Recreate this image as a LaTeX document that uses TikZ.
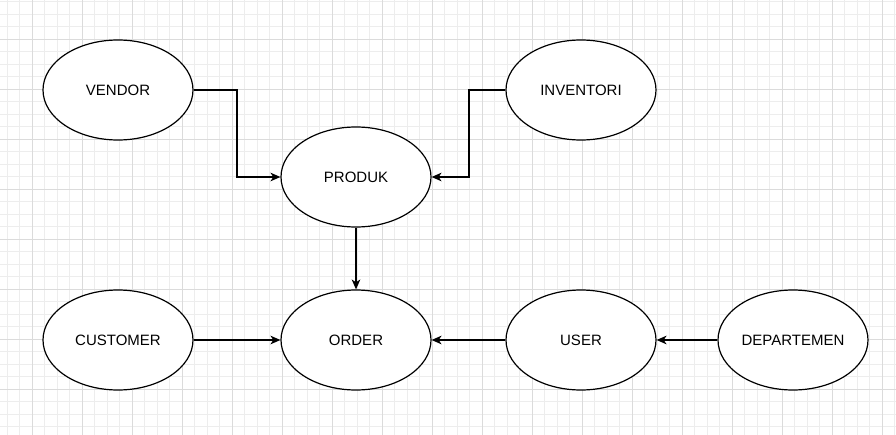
\documentclass[tikz,border=0pt]{standalone}
\usepackage{fontspec}
\setmainfont{Liberation Sans}
\usepackage{tikz}
\usetikzlibrary{arrows.meta,shapes.geometric}

\begin{document}
\begin{tikzpicture}[x=0.75pt,y=-0.75pt,->,>={Stealth[length=7.5pt,width=6.5pt,inset=2.2pt]},
  line width=0.9pt,
  entity/.style={ellipse,draw,fill=white,minimum width=112.5pt,
  minimum height=75pt,inner sep=0pt,font=\fontsize{11.25}{13}\selectfont}]

  % background grid
  \useasboundingbox (0,0) rectangle (896,435);
  \fill[white] (0,0) rectangle (896,435);
  \foreach \i in {0,...,71}
    \draw[-,line width=0.4pt,black!7] (7+12.5*\i,0) -- (7+12.5*\i,435);
  \foreach \i in {0,...,34}
    \draw[-,line width=0.4pt,black!7] (0,1.5+12.5*\i) -- (896,1.5+12.5*\i);
  \foreach \i in {0,...,17}
    \draw[-,line width=0.4pt,black!14] (32+50*\i,0) -- (32+50*\i,435);
  \foreach \i in {0,...,8}
    \draw[-,line width=0.4pt,black!14] (0,39+50*\i) -- (896,39+50*\i);

  \node[entity] (V) at (118,90) {VENDOR};
  \node[entity] (I) at (581,90) {INVENTORI};
  \node[entity] (P) at (356,177) {PRODUK};
  \node[entity] (C) at (118,340) {CUSTOMER};
  \node[entity] (O) at (356,340) {ORDER};
  \node[entity] (U) at (581,340) {USER};
  \node[entity] (D) at (793,340) {DEPARTEMEN};

  \coordinate (vbend) at (237,90);
  \coordinate (ibend) at (469,90);

  \draw (V) -- (vbend) |- (P);
  \draw (I) -- (ibend) |- (P);
  \draw (P) -- (O);
  \draw (C) -- (O);
  \draw (U) -- (O);
  \draw (D) -- (U);

\end{tikzpicture}
\end{document}
